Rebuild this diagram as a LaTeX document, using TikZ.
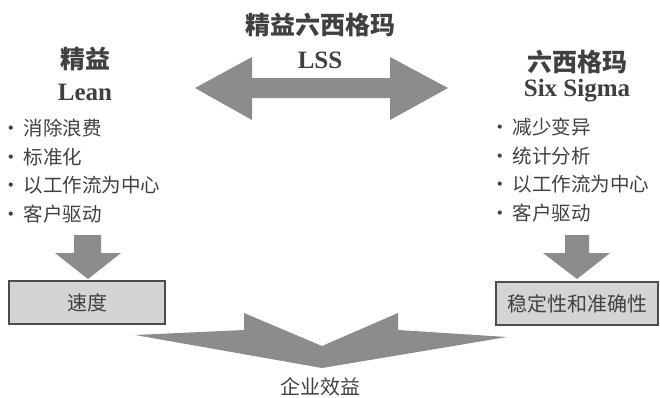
\documentclass[tikz,border=0pt]{standalone}
\usepackage{fontspec}
\setmainfont{Liberation Serif}
\newfontfamily\cjk{Noto Sans CJK SC}
\usetikzlibrary{positioning}
\definecolor{arrowgray}{gray}{0.55}
\definecolor{boxgray}{gray}{0.83}
\definecolor{textgray}{gray}{0.25}
\tikzset{
  heading/.style={text=textgray, inner sep=0pt, font=\fontsize{25}{26}\selectfont\bfseries},
  itemlist/.style={text=textgray, inner sep=0pt, anchor=west, align=left, font=\cjk\fontsize{19.5}{28.5}\selectfont},
  resultbox/.style={draw=black!70, line width=1.8pt, fill=boxgray, minimum height=43pt, text=textgray, font=\cjk\fontsize{20}{20}\selectfont},
  blockarrow/.style={fill=arrowgray},
}
\begin{document}
\begin{tikzpicture}[x=1pt, y=-1pt]
\useasboundingbox (0,0) rectangle (660,397);

% headings
\node[heading] (lss) at (320,25) {{\cjk 精益六西格玛}};
\node[heading] (lssname) at (320,60) {LSS};
\node[heading] (lean) at (85,59) {{\cjk 精益}};
\node[heading] (leanname) at (85,92) {Lean};
\node[heading] (sigma) at (577,62) {{\cjk 六西格玛}};
\node[heading] (sigmaname) at (577,91) {Six Sigma};

% lists
\node[itemlist] (leanlist) at (1,171) {·\,消除浪费\\·\,标准化\\·\,以工作流为中心\\·\,客户驱动};
\node[itemlist] (sigmalist) at (490,170) {·\,减少变异\\·\,统计分析\\·\,以工作流为中心\\·\,客户驱动};

% results
\node[resultbox, minimum width=156pt] (speed) at (87,302.5) {速度};
\node[resultbox, minimum width=162pt] (quality) at (577,303.5) {稳定性和准确性};
\node[text=textgray, inner sep=0pt, font=\cjk\fontsize{20}{20}\selectfont] (benefit) at (320,387) {企业效益};

% block arrows
\fill[blockarrow] (195,88) -- (252,57) -- (252,78) -- (390,78) -- (390,57) -- (448,88)
  -- (390,120) -- (390,98) -- (252,98) -- (252,120) -- cycle;
\fill[blockarrow] (74,235) -- (101,235) -- (101,253) -- (121,253) -- (88,279)
  -- (55,253) -- (74,253) -- cycle;
\fill[blockarrow] (565,235) -- (589,235) -- (589,253) -- (610,253) -- (577,279)
  -- (543,253) -- (565,253) -- cycle;
\fill[blockarrow] (135,335) -- (244,330) -- (244,313) -- (322,346) -- (398,313)
  -- (398,330) -- (507,337) -- (322,368) -- cycle;
\end{tikzpicture}
\end{document}
